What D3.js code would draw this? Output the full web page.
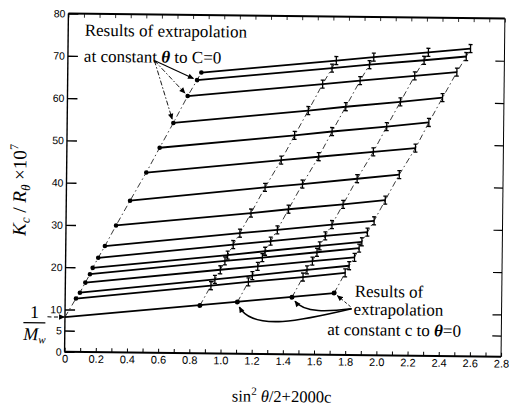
<!DOCTYPE html>
<html>
<head>
<meta charset="utf-8">
<script src="https://cdn.jsdelivr.net/npm/d3@7"></script>
<style>
  html, body { margin: 0; padding: 0; background: #fff; }
  svg { display: block; }
</style>
</head>
<body>
<svg id="chart" width="509" height="410"></svg>
<script>
// sin^2(θ/2) of each scattering angle, highest angle first
const sinHalfSq = [0.857, 0.830, 0.771, 0.681, 0.595, 0.511, 0.409, 0.321, 0.251, 0.209, 0.174, 0.157, 0.128, 0.094, 0.069];
// 2000c for the four measured concentrations
const conc2000 = [0.865, 1.105, 1.455, 1.725];
// Kc/Rθ ×10^7 extrapolated to c = 0, one value per angle
const kcZeroConc = [66.4, 64.6, 60.8, 54.4, 48.5, 42.6, 35.9, 30.0, 25.1, 22.3, 19.9, 18.4, 16.4, 14.0, 12.6];
// measured Kc/Rθ ×10^7: one row per angle, one column per concentration
const kcMeasured = [
  [69.6, 70.5, 71.8, 72.8],
  [67.8, 68.7, 69.9, 70.9],
  [64.0, 64.9, 66.2, 67.2],
  [57.7, 58.7, 60.0, 61.1],
  [51.8, 52.8, 54.1, 55.2],
  [45.9, 46.8, 48.1, 49.1],
  [39.4, 40.3, 41.7, 42.8],
  [33.3, 34.3, 35.6, 36.7],
  [28.5, 29.4, 30.8, 31.8],
  [25.8, 26.7, 28.1, 29.1],
  [23.3, 24.3, 25.7, 26.8],
  [21.9, 22.8, 24.2, 25.3],
  [19.8, 20.7, 22.1, 23.1],
  [17.5, 18.5, 20.0, 21.1],
  [16.0, 17.0, 18.3, 19.4]
];
// Kc/Rθ ×10^7 extrapolated to θ = 0, one value per concentration
const kcZeroAngle = [11.3, 12.2, 13.5, 14.6];
// common intercept, 1/Mw ×10^7
const invMw = 8.2;

const xTickValues = [0, 0.2, 0.4, 0.6, 0.8, 1.0, 1.2, 1.4, 1.6, 1.8, 2.0, 2.2, 2.4, 2.6, 2.8];
const xTickLabels = ["0", "0.2", "0.4", "0.6", "0.8", "1.0", "1.2", "1.4", "1.6", "1.8", "2.0", "2.2", "2.4", "2.6", "2.8"];
const yTickValues = [0, 5, 10, 20, 30, 40, 50, 60, 70, 80];
const yTickLabels = ["0", "5", "10", "20", "30", "40", "50", "60", "70", "80"];

const svg = d3.select("#chart");
const serif = "'Liberation Serif', 'Times New Roman', serif";
const sans = "'Liberation Sans', Arial, sans-serif";

const defs = svg.append("defs");
defs.append("marker")
  .attr("id", "head")
  .attr("viewBox", "0 0 10 10")
  .attr("refX", 9).attr("refY", 5)
  .attr("markerWidth", 7).attr("markerHeight", 6)
  .attr("markerUnits", "userSpaceOnUse")
  .attr("orient", "auto")
  .append("path").attr("d", "M0,0.5 L10,5 L0,9.5 Z").attr("fill", "#000");

// the printed page sits very slightly rotated
const g = svg.append("g").attr("transform", "rotate(0.65,285,183)");

const x = d3.scaleLinear().domain([0, 2.8]).range([66.5, 503]);
const y = d3.scaleLinear().domain([0, 80]).range([354.2, 16]);

// frame
g.append("line").attr("x1", x(0)).attr("x2", x(2.8)).attr("y1", y(80)).attr("y2", y(80))
  .attr("stroke", "#000").attr("stroke-width", 2);
g.append("line").attr("x1", x(0)).attr("x2", x(2.8)).attr("y1", y(0)).attr("y2", y(0))
  .attr("stroke", "#000").attr("stroke-width", 2);
g.append("line").attr("x1", x(0)).attr("x2", x(0)).attr("y1", y(0)).attr("y2", y(80))
  .attr("stroke", "#000").attr("stroke-width", 1.4);
g.append("line").attr("x1", x(2.8)).attr("x2", x(2.8)).attr("y1", y(0)).attr("y2", y(80))
  .attr("stroke", "#000").attr("stroke-width", 1);

function styleAxis(sel, size) {
  sel.select(".domain").remove();
  sel.selectAll("text").attr("font-family", sans).attr("font-size", size).attr("fill", "#000");
  sel.selectAll("line").attr("stroke", "#000");
}

// bottom axis with labels, minor marks every 0.1
g.append("g").attr("transform", `translate(0,${y(0)})`)
  .call(d3.axisBottom(x).ticks(28).tickSize(-4).tickFormat(""))
  .call(s => { styleAxis(s, 11); s.selectAll("line").attr("stroke-width", 1); });
g.append("g").attr("transform", `translate(0,${y(0)})`)
  .call(d3.axisBottom(x).tickValues(xTickValues).tickSize(0).tickPadding(3)
    .tickFormat((d, i) => xTickLabels[i]))
  .call(s => styleAxis(s, 11));
// top marks
g.append("g").attr("transform", `translate(0,${y(80)})`)
  .call(d3.axisTop(x).ticks(28).tickSize(-4).tickFormat(""))
  .call(s => { styleAxis(s, 11); s.selectAll("line").attr("stroke-width", 0.8); });
// left axis
g.append("g").attr("transform", `translate(${x(0)},0)`)
  .call(d3.axisLeft(y).tickValues(yTickValues).tickSize(-10).tickPadding(3)
    .tickFormat((d, i) => yTickLabels[i]))
  .call(s => { styleAxis(s, 10.5); s.selectAll("line").attr("stroke-width", 1.4); });
// right axis marks
g.append("g").attr("transform", `translate(${x(2.8)},0)`)
  .call(d3.axisRight(y).tickValues(yTickValues.filter(v => v > 0 && v < 80)).tickSize(-9).tickFormat(""))
  .call(s => { styleAxis(s, 10.5); s.selectAll("line").attr("stroke-width", 1.2); });

const line = d3.line().x(d => x(d[0])).y(d => y(d[1]));
const dashDot = "6,3,1.5,3";

// constant-concentration lines (dash-dot), including c = 0
const zeroConcPts = [[0, invMw]].concat(sinHalfSq.map((s, i) => [s, kcZeroConc[i]]).reverse());
g.append("path").attr("d", line(zeroConcPts))
  .attr("fill", "none").attr("stroke", "#222").attr("stroke-width", 0.9).attr("stroke-dasharray", dashDot);
conc2000.forEach((c, j) => {
  const pts = [[c, kcZeroAngle[j]]].concat(sinHalfSq.map((s, i) => [s + c, kcMeasured[i][j]]).reverse());
  g.append("path").attr("d", line(pts))
    .attr("fill", "none").attr("stroke", "#222").attr("stroke-width", 0.9).attr("stroke-dasharray", dashDot);
});

// constant-angle lines (solid)
sinHalfSq.forEach((s, i) => {
  const pts = [[s, kcZeroConc[i]]].concat(conc2000.map((c, j) => [s + c, kcMeasured[i][j]]));
  g.append("path").attr("d", line(pts))
    .attr("fill", "none").attr("stroke", "#000").attr("stroke-width", 1.8);
});
// θ = 0 line
g.append("path").attr("d", line([[0, invMw], [conc2000[3], kcZeroAngle[3]]]))
  .attr("fill", "none").attr("stroke", "#000").attr("stroke-width", 1.8);

// measured points as small bars
const marks = g.append("g").attr("stroke", "#000").attr("stroke-width", 1.3);
sinHalfSq.forEach((s, i) => {
  conc2000.forEach((c, j) => {
    const px = x(s + c), py = y(kcMeasured[i][j]);
    marks.append("line").attr("x1", px).attr("x2", px).attr("y1", py - 4).attr("y2", py + 4);
    marks.append("line").attr("x1", px - 2).attr("x2", px + 2).attr("y1", py - 4).attr("y2", py - 4);
    marks.append("line").attr("x1", px - 2).attr("x2", px + 2).attr("y1", py + 4).attr("y2", py + 4);
  });
});

// extrapolated points
g.selectAll("circle.zc").data(sinHalfSq).enter().append("circle")
  .attr("cx", (s) => x(s)).attr("cy", (s, i) => y(kcZeroConc[i])).attr("r", 2.3).attr("fill", "#000");
g.selectAll("circle.za").data(conc2000).enter().append("circle")
  .attr("cx", c => x(c)).attr("cy", (c, j) => y(kcZeroAngle[j])).attr("r", 2.5).attr("fill", "#000");

// annotation: extrapolation to c = 0
const t1 = g.append("text").attr("font-family", serif).attr("font-size", 17).attr("fill", "#000");
t1.append("tspan").attr("x", 83).attr("y", 38).text("Results of extrapolation");
const t1b = t1.append("tspan").attr("x", 82.5).attr("y", 64);
t1b.append("tspan").text("at constant ");
t1b.append("tspan").attr("font-style", "italic").attr("font-weight", "bold").text("θ");
t1b.append("tspan").text(" to C=0");

function shortEnd(ox, oy, tx, ty, gap) {
  const dx = tx - ox, dy = ty - oy, L = Math.hypot(dx, dy);
  return [tx - dx / L * gap, ty - dy / L * gap];
}
const origin = [153, 62];
[1, 2, 3].forEach((i, k) => {
  const e = shortEnd(origin[0], origin[1], x(sinHalfSq[i]), y(kcZeroConc[i]), 4);
  g.append("line").attr("x1", origin[0]).attr("y1", origin[1]).attr("x2", e[0]).attr("y2", e[1])
    .attr("stroke", "#000").attr("stroke-width", k === 0 ? 1.2 : 0.9)
    .attr("stroke-dasharray", k === 0 ? null : "5,2,1.5,2")
    .attr("marker-end", "url(#head)");
});

// annotation: extrapolation to θ = 0
const t2 = g.append("text").attr("font-family", serif).attr("font-size", 17).attr("fill", "#000");
t2.append("tspan").attr("x", 356).attr("y", 296).text("Results of");
t2.append("tspan").attr("x", 355).attr("y", 314).text("extrapolation");
const t2c = t2.append("tspan").attr("x", 329).attr("y", 334.5);
t2c.append("tspan").text("at constant c to ");
t2c.append("tspan").attr("font-style", "italic").attr("font-weight", "bold").text("θ");
t2c.append("tspan").text("=0");

const o2 = [353, 308];
const endA = shortEnd(o2[0], o2[1] - 2, x(conc2000[3]), y(kcZeroAngle[3]), 4);
g.append("line").attr("x1", o2[0] - 1).attr("y1", o2[1] - 2).attr("x2", endA[0]).attr("y2", endA[1])
  .attr("stroke", "#000").attr("stroke-width", 0.9).attr("stroke-dasharray", "3,2")
  .attr("marker-end", "url(#head)");
const b3x = x(conc2000[2]), b3y = y(kcZeroAngle[2]);
g.append("path")
  .attr("d", `M${o2[0]},${o2[1]} C330,311 306,313 ${b3x + 3},${b3y + 4}`)
  .attr("fill", "none").attr("stroke", "#000").attr("stroke-width", 1.6).attr("marker-end", "url(#head)");
const b2x = x(conc2000[1]), b2y = y(kcZeroAngle[1]);
g.append("path")
  .attr("d", `M${o2[0]},${o2[1]} C305,320 255,332 ${b2x + 2},${b2y + 5}`)
  .attr("fill", "none").attr("stroke", "#000").attr("stroke-width", 1.6).attr("marker-end", "url(#head)");

// 1/Mw marker
g.append("text").attr("x", 36).attr("y", 321).attr("text-anchor", "middle")
  .attr("font-family", serif).attr("font-size", 18).text("1");
g.append("line").attr("x1", 25).attr("x2", 47).attr("y1", 325.5).attr("y2", 325.5)
  .attr("stroke", "#000").attr("stroke-width", 1.3);
const mw = g.append("text").attr("x", 25).attr("y", 343).attr("font-family", serif).attr("font-size", 18);
mw.append("tspan").attr("font-style", "italic").text("M");
mw.append("tspan").attr("font-style", "italic").attr("font-size", 11).attr("dy", 3).text("w");
g.append("line").attr("x1", 49).attr("y1", y(invMw)).attr("x2", x(0) - 0.5).attr("y2", y(invMw))
  .attr("stroke", "#000").attr("stroke-width", 1).attr("stroke-dasharray", "4,2.5")
  .attr("marker-end", "url(#head)");

// axis titles
const yl = g.append("text").attr("transform", "translate(26,193) rotate(-90)")
  .attr("text-anchor", "middle").attr("font-family", serif).attr("font-size", 19).attr("fill", "#000");
yl.append("tspan").attr("font-style", "italic").text("K");
yl.append("tspan").attr("font-style", "italic").attr("font-size", 13).attr("dy", 4).text("c");
yl.append("tspan").attr("dy", -4).text(" / ");
yl.append("tspan").attr("font-style", "italic").text("R");
yl.append("tspan").attr("font-style", "italic").attr("font-size", 13).attr("dy", 4).text("θ");
yl.append("tspan").attr("dy", -4).text(" ×10");
yl.append("tspan").attr("font-size", 12).attr("dy", -8).text("7");

const xl = g.append("text").attr("x", 284).attr("y", 402).attr("text-anchor", "middle")
  .attr("font-family", serif).attr("font-size", 16.5).attr("fill", "#000");
xl.append("tspan").text("sin");
xl.append("tspan").attr("font-size", 11).attr("dy", -7).text("2");
xl.append("tspan").attr("dy", 7).text(" ");
xl.append("tspan").attr("font-style", "italic").text("θ");
xl.append("tspan").text("/2+2000c");
</script>
</body>
</html>
